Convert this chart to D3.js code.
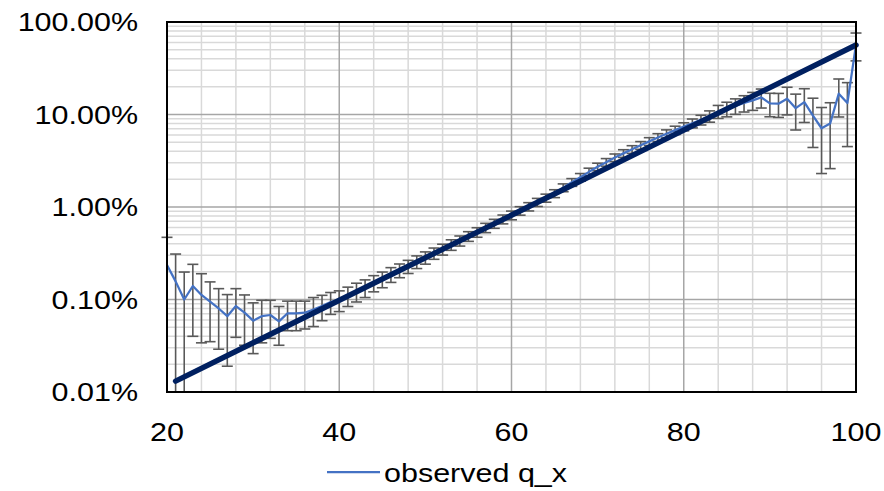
<!DOCTYPE html>
<html>
<head>
<meta charset="utf-8">
<script src="https://cdn.jsdelivr.net/npm/d3@7"></script>
<style>
  body { margin: 0; background: #fff; }
  text { font-family: "Liberation Sans", Arial, sans-serif; fill: #000; }
</style>
</head>
<body>
<svg id="chart" width="884" height="491"></svg>
<script>
// observed death rates by age, with the error-bar half widths
const ages = d3.range(20, 101)
const qx = [
  0.00236, 0.00157, 0.00100, 0.00140, 0.00112, 0.00095, 0.00080, 0.00066, 0.00085, 0.00072,
  0.00059, 0.00066, 0.00068, 0.00058, 0.00071, 0.00071, 0.00072, 0.00078, 0.00085, 0.00094,
  0.00099, 0.00110, 0.00122, 0.00134, 0.00151, 0.00166, 0.00187, 0.00207, 0.00228, 0.00256,
  0.00284, 0.00316, 0.00349, 0.00391, 0.00432, 0.00483, 0.00534, 0.00597, 0.00662, 0.00738,
  0.00815, 0.00912, 0.01010, 0.01126, 0.01252, 0.01400, 0.01620, 0.01850, 0.02100, 0.02400,
  0.02720, 0.03050, 0.03420, 0.03800, 0.04200, 0.04650, 0.05120, 0.05650, 0.06200, 0.06780,
  0.07400, 0.08050, 0.08750, 0.09600, 0.10800, 0.11500, 0.12400, 0.13300, 0.14200, 0.15300,
  0.13200, 0.13100, 0.14800, 0.11700, 0.13600, 0.09700, 0.07100, 0.08000, 0.16800, 0.13300,
  0.57000
]
const qxErr = [
  0.00234, 0.00153, 0.00098, 0.00100, 0.00078, 0.00060, 0.00051, 0.00047, 0.00046, 0.00040,
  0.00033, 0.00032, 0.00030, 0.00026, 0.00025, 0.00025, 0.00024, 0.00027, 0.00026, 0.00025,
  0.00025, 0.00026, 0.00028, 0.00029, 0.00030, 0.00032, 0.00034, 0.00035, 0.00037, 0.00040,
  0.00043, 0.00044, 0.00047, 0.00051, 0.00054, 0.00058, 0.00063, 0.00069, 0.00074, 0.00081,
  0.00088, 0.00096, 0.00104, 0.00113, 0.00125, 0.00137, 0.00157, 0.00178, 0.00200, 0.00228,
  0.00256, 0.00287, 0.00321, 0.00361, 0.00400, 0.00446, 0.00497, 0.00554, 0.00620, 0.00692,
  0.00740, 0.00886, 0.01050, 0.01340, 0.01730, 0.02070, 0.02360, 0.02660, 0.03120, 0.03550,
  0.03750, 0.03800, 0.04900, 0.04900, 0.05400, 0.05300, 0.04800, 0.05400, 0.07400, 0.08800,
  0.19000
]
// fitted straight line (on the log axis), end points
const fitAges = [21, 100]
const fitQx = [0.000131, 0.564]

const xTicks = [20, 40, 60, 80, 100]
const yTicks = [0.0001, 0.001, 0.01, 0.1, 1]
const legendLabel = 'observed q_x'

const plot = { left: 167, right: 856, top: 22, bottom: 392 }
const stretch = 1.22 // the source text is wider than it is tall
const x = d3.scaleLinear().domain([20, 100]).range([plot.left, plot.right])
const y = d3.scaleLog().domain([0.0001, 1]).range([plot.bottom, plot.top])
const yMin = y.domain()[0]

const svg = d3.select('#chart')

function label(g, tx, ty, str, anchor) {
  return g.append('text')
    .attr('transform', `translate(${tx},${ty}) scale(${stretch},1)`)
    .attr('text-anchor', anchor)
    .attr('font-size', 25)
    .text(str)
}

// Gridlines: minor first, then major on top
const grid = svg.append('g')
const minorX = d3.range(20, 101, 4).filter((d) => d % 20 !== 0)
const majorX = xTicks.slice(1, -1)
const allY = y.ticks()
const minorY = allY.filter((d) => !yTicks.some((t) => Math.abs(t - d) / t < 1e-6))
const majorY = yTicks.slice(1, -1)

grid.selectAll('.mx').data(minorX).join('line')
  .attr('x1', x).attr('x2', x).attr('y1', plot.top).attr('y2', plot.bottom)
  .attr('stroke', '#d9d9d9').attr('stroke-width', 1.5)
grid.selectAll('.my').data(minorY).join('line')
  .attr('x1', plot.left).attr('x2', plot.right).attr('y1', y).attr('y2', y)
  .attr('stroke', '#d9d9d9').attr('stroke-width', 1.5)
grid.selectAll('.jx').data(majorX).join('line')
  .attr('x1', x).attr('x2', x).attr('y1', plot.top).attr('y2', plot.bottom)
  .attr('stroke', '#a6a6a6').attr('stroke-width', 1.5)
grid.selectAll('.jy').data(majorY).join('line')
  .attr('x1', plot.left).attr('x2', plot.right).attr('y1', y).attr('y2', y)
  .attr('stroke', '#a6a6a6').attr('stroke-width', 1.5)

// Error bars
const bars = svg.append('g').attr('stroke', '#595959').attr('stroke-width', 1.6)
const capW = 5.5
ages.forEach((a, i) => {
  const hi = Math.min(qx[i] + qxErr[i], 1)
  const loRaw = qx[i] - qxErr[i]
  const lo = Math.max(loRaw, yMin)
  const cx = x(a)
  bars.append('line').attr('x1', cx).attr('x2', cx).attr('y1', y(hi)).attr('y2', y(lo))
  bars.append('line').attr('x1', cx - capW).attr('x2', cx + capW).attr('y1', y(hi)).attr('y2', y(hi))
  if (loRaw > yMin) {
    bars.append('line').attr('x1', cx - capW).attr('x2', cx + capW).attr('y1', y(lo)).attr('y2', y(lo))
  }
})

// Observed line
const line = d3.line().x((d) => x(d[0])).y((d) => y(d[1]))
svg.append('path')
  .datum(ages.map((a, i) => [a, qx[i]]))
  .attr('d', line)
  .attr('fill', 'none')
  .attr('stroke', '#4472C4')
  .attr('stroke-width', 2.25)
  .attr('stroke-linejoin', 'round')

// Fitted line
svg.append('path')
  .datum(fitAges.map((a, i) => [a, fitQx[i]]))
  .attr('d', line)
  .attr('fill', 'none')
  .attr('stroke', '#002060')
  .attr('stroke-width', 5.5)
  .attr('stroke-linecap', 'round')

// Plot border
svg.append('rect')
  .attr('x', plot.left).attr('y', plot.top)
  .attr('width', plot.right - plot.left).attr('height', plot.bottom - plot.top)
  .attr('fill', 'none').attr('stroke', '#000').attr('stroke-width', 2)

// Axis labels
const fmt = d3.format('.2%')
const axes = svg.append('g')
yTicks.forEach((t) => label(axes, 138, y(t) + 9, fmt(t), 'end'))
xTicks.forEach((t) => label(axes, x(t), 441, t, 'middle'))

// Legend
const leg = svg.append('g')
leg.append('line')
  .attr('x1', 327).attr('x2', 380).attr('y1', 472).attr('y2', 472)
  .attr('stroke', '#4472C4').attr('stroke-width', 2.25)
label(leg, 384, 482, legendLabel, 'start')
</script>
</body>
</html>
